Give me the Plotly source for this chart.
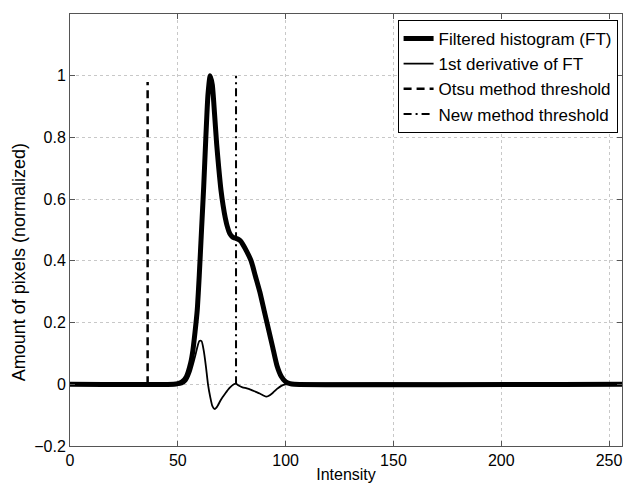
import plotly.graph_objects as go

ft_x = [0, 48, 50, 52, 54, 56, 57, 58, 59, 60, 61, 62, 63, 64, 65, 66, 67, 68, 69, 70,
        71, 72, 73, 74, 75, 76, 77, 78, 79, 80, 82, 84, 86, 88, 90, 92, 94, 96, 98,
        100, 102, 104, 256]
ft_y = [0, 0, 0.002, 0.008, 0.025, 0.07, 0.11, 0.17, 0.24, 0.36, 0.50, 0.64, 0.80, 0.94,
        1.0, 0.97, 0.88, 0.78, 0.70, 0.63, 0.58, 0.54, 0.51, 0.49, 0.48, 0.475, 0.473,
        0.47, 0.465, 0.455, 0.43, 0.40, 0.35, 0.30, 0.24, 0.18, 0.12, 0.06, 0.025,
        0.008, 0.002, 0, 0]

# 1st derivative of FT
der_x = [0, 52, 54, 56, 58, 60, 61, 62, 63, 64, 65, 66, 67, 68, 70, 72, 74, 76, 77, 78,
         80, 82, 84, 86, 88, 90, 91, 92, 94, 96, 98, 100, 256]
der_y = [0, 0, 0.01, 0.04, 0.09, 0.14, 0.14, 0.11, 0.06, 0.0, -0.04, -0.07, -0.08, -0.075,
         -0.05, -0.03, -0.012, 0.0, 0.002, -0.003, -0.01, -0.013, -0.018, -0.024, -0.03,
         -0.037, -0.04, -0.038, -0.028, -0.015, -0.005, 0, 0]

otsu_x = [36, 36]
otsu_y = [0, 0.98]
new_x = [77, 77]
new_y = [0, 1.0]

fig = go.Figure()
fig.add_trace(go.Scatter(x=ft_x, y=ft_y, mode='lines', name='Filtered histogram (FT)',
                         line=dict(color='black', width=5, shape='spline', smoothing=0.6)))
fig.add_trace(go.Scatter(x=der_x, y=der_y, mode='lines', name='1st derivative of FT',
                         line=dict(color='black', width=1.8, shape='spline', smoothing=0.6)))
fig.add_trace(go.Scatter(x=otsu_x, y=otsu_y, mode='lines', name='Otsu method threshold',
                         line=dict(color='black', width=2.5, dash='8px,5px')))
fig.add_trace(go.Scatter(x=new_x, y=new_y, mode='lines', name='New method threshold',
                         line=dict(color='black', width=2, dash='8px,4px,2px,4px')))

fig.update_layout(
    width=625, height=483,
    margin=dict(l=70, r=3, t=14, b=37, autoexpand=False),
    paper_bgcolor='white', plot_bgcolor='white',
    font=dict(family='Liberation Sans', color='black'),
    showlegend=True,
    legend=dict(x=0.992, y=0.986, xanchor='right', yanchor='top',
                bgcolor='white', bordercolor='black', borderwidth=1,
                font=dict(size=17), tracegroupgap=0),
)

axis_style = dict(showline=True, linecolor='#555', linewidth=1, mirror='ticks',
                  ticks='inside', ticklen=5, tickcolor='#555',
                  showgrid=True, gridcolor='#c8c8c8', griddash='dot', gridwidth=1,
                  zeroline=False, tickfont=dict(size=16), automargin=False)

fig.update_xaxes(range=[0, 256], tickvals=[0, 50, 100, 150, 200, 250],
                 title=dict(text='Intensity', font=dict(size=16), standoff=0),
                 **axis_style)
fig.update_yaxes(range=[-0.2, 1.2], tickvals=[-0.2, 0, 0.2, 0.4, 0.6, 0.8, 1],
                 ticktext=['\u22120.2', '0', '0.2', '0.4', '0.6', '0.8', '1'],
                 **axis_style)

# y label sits a bit below the axis centre in the original
fig.add_annotation(text='Amount of pixels (normalized)', textangle=-90,
                   xref='paper', yref='paper', x=-0.092, y=0.426,
                   xanchor='center', yanchor='middle', showarrow=False,
                   font=dict(size=18))

# drop the default page margin so the figure fills the window, no modebar
fig.write_html("out.html", config={'displayModeBar': False},
               post_script="document.body.style.margin='0px';")
